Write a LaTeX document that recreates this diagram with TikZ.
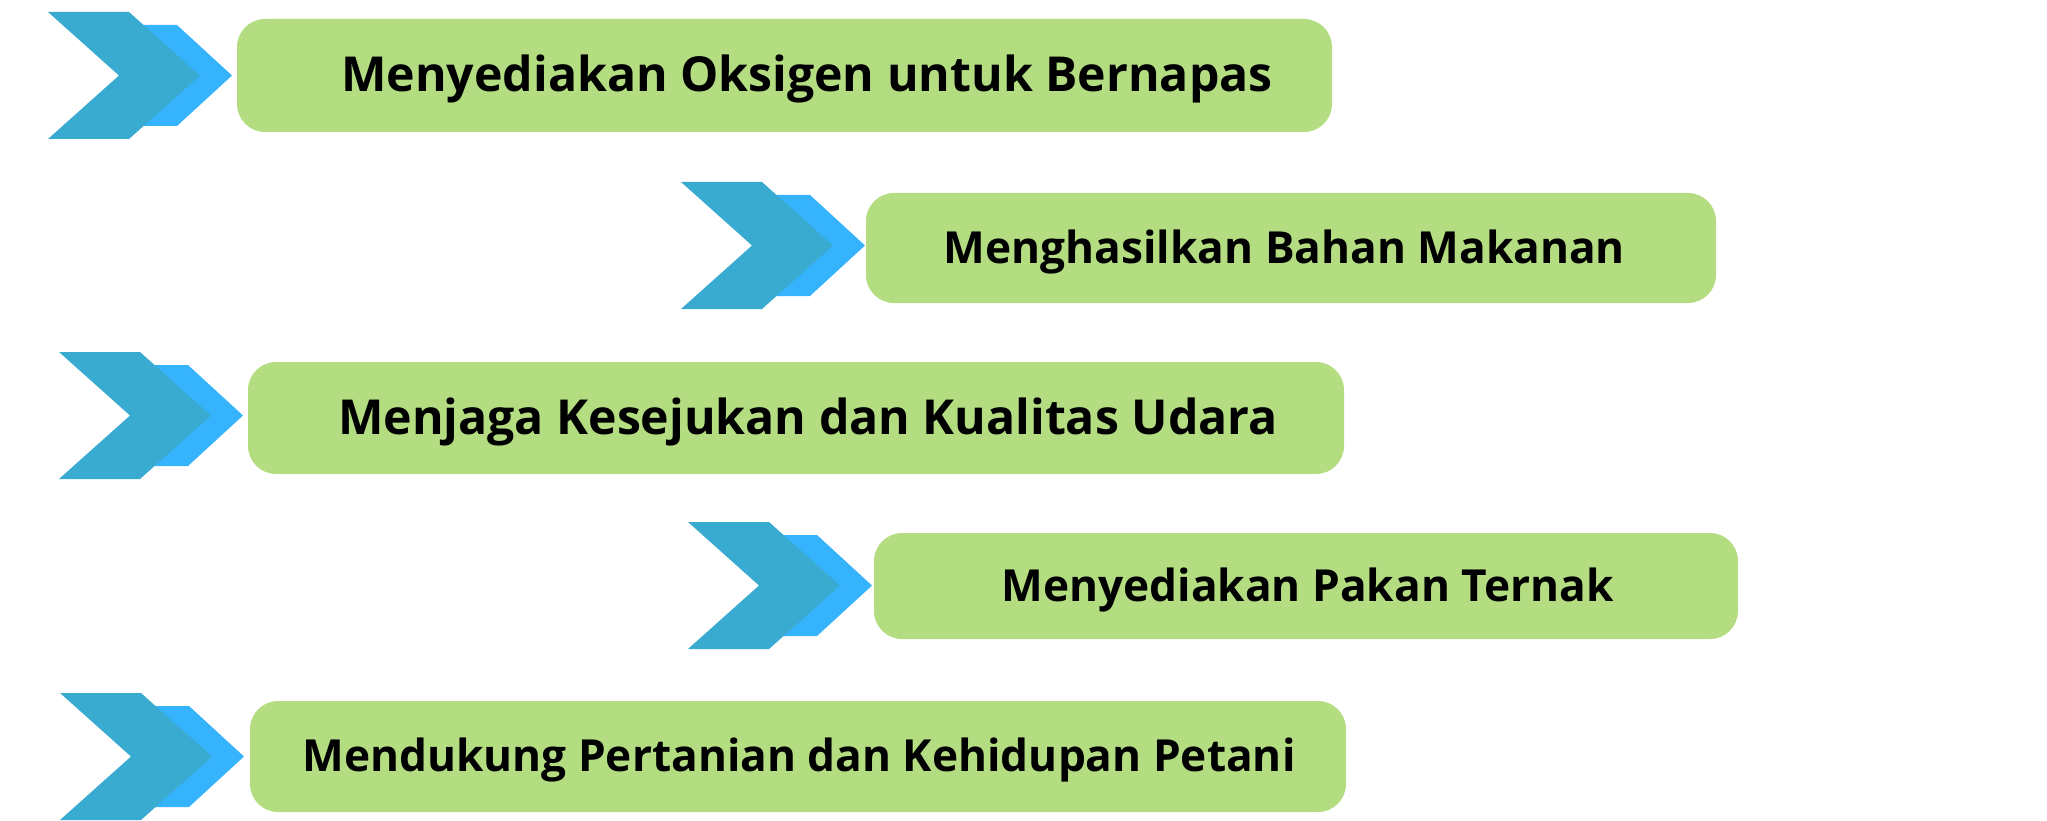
\documentclass[tikz,border=0pt]{standalone}
\usepackage{fontspec}
\setmainfont{Open Sans}
\usepackage{tikz}
\usetikzlibrary{positioning}
\definecolor{chevdark}{HTML}{39AAD0}
\definecolor{chevlight}{HTML}{36B3FD}
\definecolor{boxgreen}{HTML}{B4DD82}
\newcommand\chevron{}
\def\chevron(#1,#2){% \chevron(left,top): double arrow head
\fill[chevlight, shift={(#1,#2)}] (74,13) -- (129,13) -- (184,63.5) -- (129,114) -- (74,114) -- (129,63.5) -- cycle;
\fill[chevdark, shift={(#1,#2)}] (0,0) -- (81,0) -- (152,63.5) -- (81,127) -- (0,127) -- (71,63.5) -- cycle;
}

\begin{document}
\begin{tikzpicture}[x=1pt, y=-1pt,
	box/.style={fill=boxgreen, rounded corners=28pt, inner sep=0pt},
	bigtext/.style={anchor=base, inner sep=0pt, font=\fontsize{48.2}{52}\selectfont\bfseries},
	smalltext/.style={anchor=base, inner sep=0pt, font=\fontsize{44.2}{48}\selectfont\bfseries}]
	\useasboundingbox (0,0) rectangle (2047,821);
	%% arrow heads
	\chevron(48,12);
	\chevron(681,182);
	\chevron(59,352);
	\chevron(688,522);
	\chevron(60,693);
	%% boxes
	\node[box, minimum width=1095pt, minimum height=113pt] (oksigen) at (784.5,75.5) {};
	\node[box, minimum width=850pt, minimum height=110pt] (makanan) at (1291,248) {};
	\node[box, minimum width=1096pt, minimum height=112pt] (udara) at (796,418) {};
	\node[box, minimum width=864pt, minimum height=106pt] (pakan) at (1306,586) {};
	\node[box, minimum width=1096pt, minimum height=111pt] (petani) at (798,756.5) {};
	%% texts
	\node[bigtext] (oksigen text) at (807,92) {Menyediakan Oksigen untuk Bernapas};
	\node[smalltext] (makanan text) at (1284.5,263.5) {Menghasilkan Bahan Makanan};
	\node[bigtext] (udara text) at (808,434) {Menjaga Kesejukan dan Kualitas Udara};
	\node[smalltext] (pakan text) at (1307.5,601) {Menyediakan Pakan Ternak};
	\node[smalltext] (petani text) at (799,771.5) {Mendukung Pertanian dan Kehidupan Petani};
\end{tikzpicture}
\end{document}
